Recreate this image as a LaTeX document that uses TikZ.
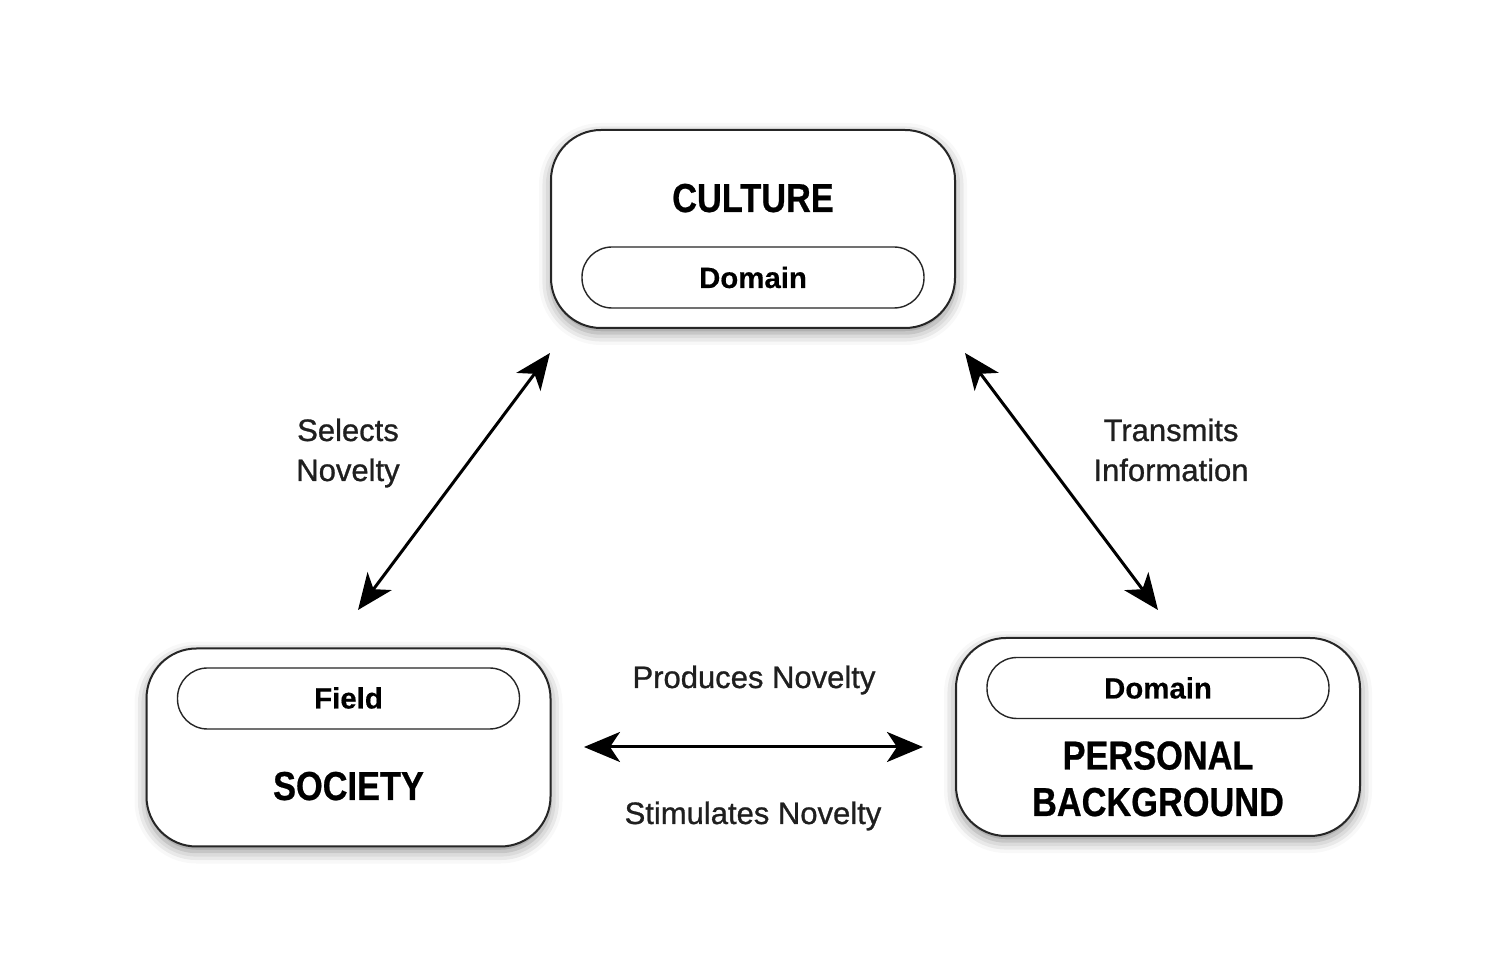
\documentclass[tikz,border=0pt]{standalone}
\usepackage{fontspec}
\setmainfont{Liberation Sans}
\newfontfamily\titlefont[FakeStretch=0.85,FakeBold=0.6]{Liberation Sans Bold}
\newfontfamily\lblfont[FakeBold=0.9]{Liberation Sans}
\newfontfamily\subfont[FakeBold=0.3]{Liberation Sans Bold}
\usetikzlibrary{arrows.meta,shadows.blur}
\begin{document}
\begin{tikzpicture}[x=0.5pt,y=-0.5pt,
  bigbox/.style={draw=black!85, line width=1pt, fill=white, rounded corners=25pt,
    minimum width=202pt, minimum height=99pt, inner sep=0pt,
    blur shadow={shadow xshift=0pt, shadow yshift=-2.5pt, shadow blur radius=6pt, shadow opacity=45}},
  pill/.style={draw=black!85, line width=0.7pt, fill=white, rounded corners=15pt,
    minimum width=171pt, minimum height=30.5pt, inner sep=0pt},
  title/.style={font=\titlefont\fontsize{20.2}{23}\selectfont, inner sep=0pt, align=center},
  sub/.style={font=\subfont\fontsize{14.7}{17}\selectfont, inner sep=0pt},
  lbl/.style={font=\lblfont\fontsize{15.5}{20}\selectfont, text=black!88, inner sep=0pt, align=center},
  dbl/.style={line width=1.5pt, {Stealth[length=18pt,width=15pt,inset=5pt]}-{Stealth[length=18pt,width=15pt,inset=5pt]}}
]
\useasboundingbox (0,0) rectangle (1512,956);
% boxes
\node[bigbox] (culture) at (753,229) {};
\node[pill] (cdomain) at (753,277.5) {};
\node[sub, anchor=base] (cdomaint) at (753,288) {Domain};
\node[title, anchor=base] (culturet) at (753,212) {CULTURE};

\node[bigbox] (society) at (348.5,747.5) {};
\node[pill] (field) at (348.5,698.5) {};
\node[sub, anchor=base] (fieldt) at (348.5,708.5) {Field};
\node[title, anchor=base] (societyt) at (348.5,800) {SOCIETY};

\node[bigbox] (personal) at (1158,737) {};
\node[pill] (pdomain) at (1158,688) {};
\node[sub, anchor=base] (pdomaint) at (1158,698.5) {Domain};
\node[title, anchor=base] (personalt) at (1158,769.5) {PERSONAL};
\node[title, anchor=base] (backgroundt) at (1158,816) {BACKGROUND};

% arrows
\coordinate (l1) at (358,610);
\coordinate (l2) at (550,353);
\coordinate (r1) at (965,353);
\coordinate (r2) at (1158,610);
\coordinate (h1) at (584,747);
\coordinate (h2) at (923,747);
\draw[dbl] (l1) -- (l2);
\draw[dbl] (r1) -- (r2);
\draw[dbl] (h1) -- (h2);

% labels
\node[lbl, anchor=base] (sel1) at (348,441) {Selects};
\node[lbl, anchor=base] (sel2) at (348,481) {Novelty};
\node[lbl, anchor=base] (tr1) at (1171,441) {Transmits};
\node[lbl, anchor=base] (tr2) at (1171,481) {Information};
\node[lbl, anchor=base] (prod) at (754,688) {Produces Novelty};
\node[lbl, anchor=base] (stim) at (753,824) {Stimulates Novelty};
\end{tikzpicture}
\end{document}
